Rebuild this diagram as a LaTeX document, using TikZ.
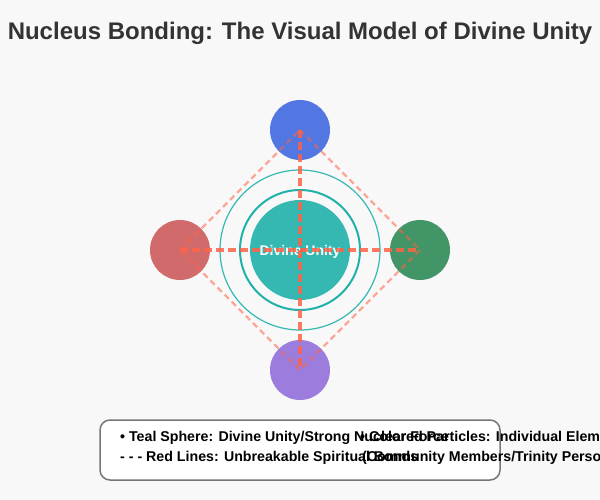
\documentclass[tikz,border=0pt]{standalone}
\usepackage{fontspec}
\setmainfont{Liberation Sans}
\definecolor{bg}{HTML}{F8F8F8}
\definecolor{titlec}{HTML}{333333}
\definecolor{teal1}{HTML}{20B2AA}
\definecolor{blue1}{HTML}{4169E1}
\definecolor{red1}{HTML}{CD5C5C}
\definecolor{green1}{HTML}{2E8B57}
\definecolor{purple1}{HTML}{9370DB}
\definecolor{tomato1}{HTML}{FF6347}
\definecolor{boxc}{HTML}{777777}
\begin{document}
\begin{tikzpicture}[x=1pt,y=-1pt,
  particle/.style={circle,minimum size=60pt,inner sep=0pt,fill opacity=0.9},
  ring/.style={circle,inner sep=0pt,draw=teal1},
  bond/.style={draw=tomato1,draw opacity=0.85,line width=3.3pt,dash pattern=on 8pt off 4pt},
  diag/.style={draw=tomato1,draw opacity=0.55,line width=2.3pt,dash pattern=on 6pt off 4pt},
  legtext/.style={anchor=base west,inner sep=0pt,font=\bfseries\fontsize{14.2}{16}\selectfont,text=black}]
\fill[bg] (0,0) rectangle (600,500);
\useasboundingbox (0,0) rectangle (600,500);
\node[anchor=base,inner sep=0pt,text=titlec,font=\bfseries\fontsize{24}{28}\selectfont] (title) at (300,40) {Nucleus Bonding: The Visual Model of Divine Unity};
% rings
\node[ring,minimum size=160pt,line width=1.2pt,draw opacity=0.9] (ring2) at (300,250) {};
\node[ring,minimum size=120pt,line width=2pt] (ring1) at (300,250) {};
% core
\node[circle,minimum size=100pt,inner sep=0pt,fill=teal1,fill opacity=0.9] (core) at (300,250) {};
% particles
\node[particle,fill=blue1] (top) at (300,130) {};
\node[particle,fill=red1] (left) at (180,250) {};
\node[particle,fill=green1] (right) at (420,250) {};
\node[particle,fill=purple1] (bottom) at (300,370) {};
\node[anchor=base,inner sep=0pt,text=white,font=\bfseries\fontsize{14}{16}\selectfont] (label) at (300,255) {Divine Unity};
% bonds
\draw[diag] (top.center) -- (right.center) -- (bottom.center) -- (left.center) -- cycle;
\draw[bond] (left.center) -- (right.center);
\draw[bond] (top.center) -- (bottom.center);
% legend
\draw[draw=boxc,line width=1.5pt,fill=white,rounded corners=10pt] (100,420) rectangle (500,480);
\node[legtext] (l1) at (120,441) {• Teal Sphere: Divine Unity/Strong Nuclear Force};
\node[legtext] (l2) at (120,461) {- - - Red Lines: Unbreakable Spiritual Bonds};
\node[legtext] (l3) at (360,441) {• Colored Particles: Individual Elements};
\node[legtext] (l4) at (362,461) {(Community Members/Trinity Persons)};
\end{tikzpicture}
\end{document}
